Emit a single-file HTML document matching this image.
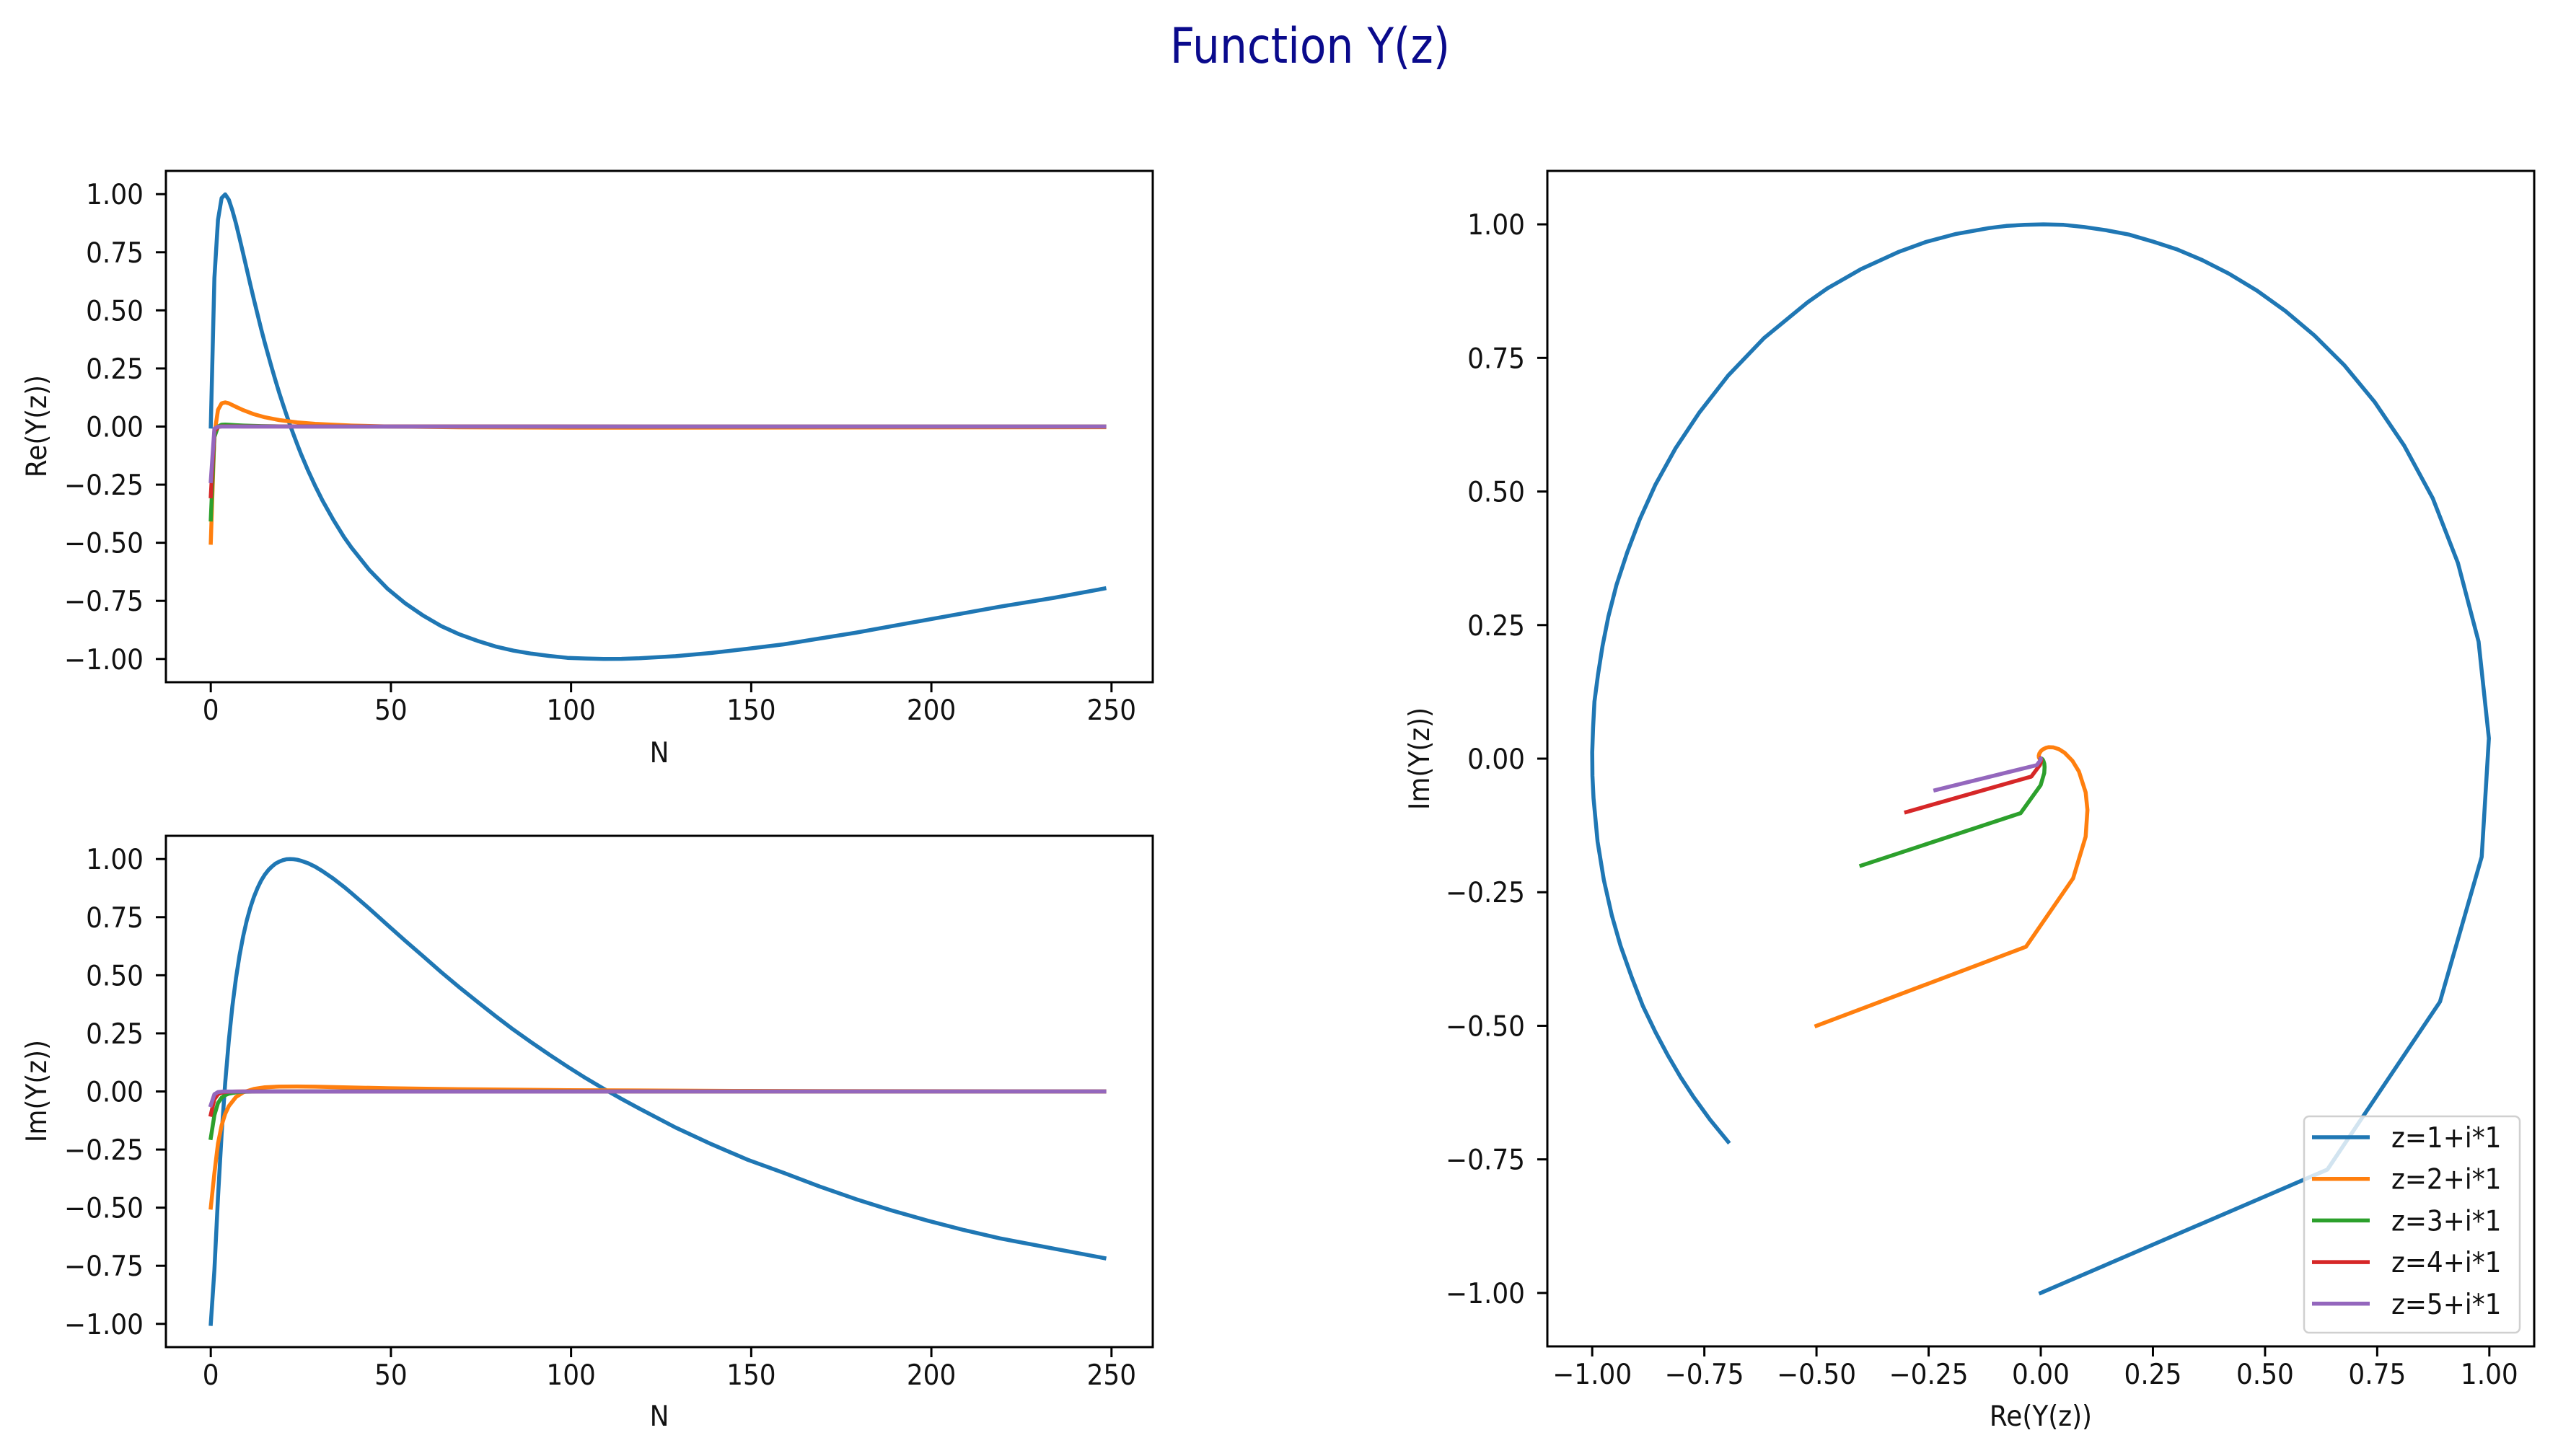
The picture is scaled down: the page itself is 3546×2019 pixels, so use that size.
<!DOCTYPE html>
<html><head><meta charset="utf-8"><title>Function Y(z)</title>
<style>html,body{margin:0;padding:0;background:#fff}svg{display:block}text{font-family:"DejaVu Sans","Liberation Sans",sans-serif;fill:#111}</style>
</head><body>
<svg id="fig" xmlns="http://www.w3.org/2000/svg" width="3546" height="2019" viewBox="0 0 3546 2019">
<rect x="0" y="0" width="3546" height="2019" fill="#fff"/>
</svg>
<script>
// ---- data ----
const seriesNames = ["z=1+i*1","z=2+i*1","z=3+i*1","z=4+i*1","z=5+i*1"];
const seriesColors = ["#1f77b4","#ff7f0e","#2ca02c","#d62728","#9467bd"];
const n1 = [1,2,3,4,5,6,7,8,9,10,11,12,13,14,15,16,17,18,19,20,21,22,23,24,25,26,28,30,32,35,38,40,45,50,55,60,65,70,75,80,85,90,95,100,105,110,115,120,130,140,150,160,170,180,190,200,210,220,235,249];
const re1 = [0,0.639,0.890,0.983,0.999,0.976,0.930,0.874,0.810,0.744,0.677,0.610,0.545,0.482,0.419,0.360,0.304,0.249,0.196,0.145,0.097,0.051,0.006,-0.036,-0.077,-0.116,-0.189,-0.256,-0.318,-0.401,-0.476,-0.520,-0.617,-0.697,-0.761,-0.814,-0.859,-0.894,-0.922,-0.946,-0.964,-0.977,-0.987,-0.995,-0.998,-1.000,-0.9995,-0.997,-0.988,-0.974,-0.956,-0.937,-0.912,-0.887,-0.859,-0.831,-0.803,-0.775,-0.737,-0.697];
const im1 = [-1,-0.769,-0.455,-0.184,0.038,0.219,0.366,0.487,0.586,0.668,0.736,0.792,0.838,0.876,0.908,0.933,0.953,0.968,0.981,0.989,0.995,0.999,1.000,0.999,0.997,0.993,0.982,0.967,0.948,0.916,0.880,0.854,0.787,0.717,0.648,0.581,0.513,0.448,0.386,0.325,0.266,0.211,0.158,0.107,0.058,0.012,-0.032,-0.074,-0.155,-0.227,-0.294,-0.350,-0.409,-0.463,-0.512,-0.556,-0.596,-0.632,-0.676,-0.717];
const n2 = [1,2,3,4,5,6,8,10,13,16,20,25,30,40,50,70,100,150,249];
const re2 = [-0.5,-0.033,0.072,0.100,0.104,0.100,0.085,0.0706,0.053,0.040,0.028,0.018,0.0118,0.0042,0.0002,-0.0032,-0.0045,-0.0042,-0.0028];
const im2 = [-0.5,-0.352,-0.224,-0.146,-0.096,-0.063,-0.024,-0.004,0.011,0.018,0.021,0.0215,0.0204,0.0172,0.0141,0.0096,0.0055,0.0022,0];
const n3 = [1,2,3,4,5,6,8,10,15,20,30,249];
const re3 = [-0.4,-0.045,-0.0004,0.0077,0.0086,0.0079,0.0058,0.0042,0.002,0.001,0.0004,0];
const im3 = [-0.2,-0.102,-0.0497,-0.0269,-0.0157,-0.0096,-0.0039,-0.0016,0.0001,0.0003,0.0003,0];
const n4 = [1,2,3,4,5,6,8,10,249];
const re4 = [-0.3,-0.0209,-0.0018,0.0007,0.0009,0.0008,0.0005,0.0003,0];
const im4 = [-0.1,-0.0335,-0.0116,-0.0049,-0.0024,-0.0013,-0.0004,-0.0001,0];
const n5 = [1,2,3,4,5,249];
const re5 = [-0.235,-0.009,-0.0007,0.0001,0.0001,0];
const im5 = [-0.059,-0.0122,-0.0029,-0.00095,-0.0003,0];
const nTicks = [0,50,100,150,200,250];
const valTicks = [-1,-0.75,-0.5,-0.25,0,0.25,0.5,0.75,1];

const NS = "http://www.w3.org/2000/svg";
const svg = document.getElementById("fig");
function mk(tag, attrs, parent){const e=document.createElementNS(NS,tag);for(const k in attrs)e.setAttribute(k,attrs[k]);(parent||svg).appendChild(e);return e;}
function txt(str,x,y,size,anchor,parent,rot,sx){
  const t=mk("text",{x:0,y:0,"font-size":size,"text-anchor":anchor||"middle",transform:"translate("+x+","+y+")"+(rot?" rotate("+rot+")":"")+" scale("+(sx||0.92)+",1)"},parent);
  t.textContent=str;return t;}
function fmt(v){const s=Math.abs(v).toFixed(2);return (v<0?"\u2212":"")+s;}

function makeAxes(name,L,T,R,B,xlim,ylim){
  const g=mk("g",{});
  
  
  const sx=v=>L+(v-xlim[0])/(xlim[1]-xlim[0])*(R-L);
  const sy=v=>B-(v-ylim[0])/(ylim[1]-ylim[0])*(B-T);
  const cid="clip-"+name;
  const cp=mk("clipPath",{id:cid},g);mk("rect",{x:L,y:T,width:R-L,height:B-T},cp);
  const plot=mk("g",{"clip-path":"url(#"+cid+")"},g);
  return {g,plot,sx,sy,L,T,R,B};
}
function drawTicks(ax,xt,yt,xf,yf){
  const tg=mk("g",{},ax.g);
  
  
  xt.forEach(v=>{const x=ax.sx(v);mk("line",{x1:x,y1:ax.B,x2:x,y2:ax.B+14,stroke:"#000","stroke-width":3},tg);
    const t=txt(xf(v),x,ax.B+52,39,"middle",tg);
    
    });
  yt.forEach(v=>{const y=ax.sy(v);mk("line",{x1:ax.L-14,y1:y,x2:ax.L,y2:y,stroke:"#000","stroke-width":3},tg);
    const t=txt(yf(v),ax.L-31,y+14,39,"end",tg);
    
    });
}
function frame(ax){const r=mk("rect",{x:ax.L,y:ax.T,width:ax.R-ax.L,height:ax.B-ax.T,fill:"none",stroke:"#000","stroke-width":3},ax.g);
  
  }
function line(ax,xs,ys,color,name,xoff){
  xoff=xoff||0;
  let d="";for(let i=0;i<xs.length;i++)d+=(i?"L":"M")+ax.sx(xs[i]+xoff).toFixed(1)+","+ax.sy(ys[i]).toFixed(1);
  const p=mk("path",{d:d,fill:"none",stroke:color,"stroke-width":5.5,"stroke-linejoin":"round","stroke-linecap":"square"},ax.plot);
  
  
}
const Ns=[n1,n2,n3,n4,n5], Res=[re1,re2,re3,re4,re5], Ims=[im1,im2,im3,im4,im5];

// title
const title=txt("Function Y(z)",1816,87,68,"middle",svg,0,0.88);
title.setAttribute("fill","#0a0a8c");title.style.fill="#0a0a8c";



// Re plot (plotted at array index N-1)
const a1=makeAxes("re-vs-n-plot",230,237,1598,946,[-12.45,261.45],[-1.1,1.1]);
for(let k=0;k<5;k++)line(a1,Ns[k],Res[k],seriesColors[k],"re-line-z"+(k+1),-1);
drawTicks(a1,nTicks,valTicks,v=>String(v),fmt);frame(a1);
let t=txt("N",914,1057,39,"middle",a1.g);
t=txt("Re(Y(z))",64,591,39,"middle",a1.g,-90);

// Im plot
const a2=makeAxes("im-vs-n-plot",230,1159,1598,1868,[-12.45,261.45],[-1.1,1.1]);
for(let k=0;k<5;k++)line(a2,Ns[k],Ims[k],seriesColors[k],"im-line-z"+(k+1),-1);
drawTicks(a2,nTicks,valTicks,v=>String(v),fmt);frame(a2);
t=txt("N",914,1977,39,"middle",a2.g);
t=txt("Im(Y(z))",64,1513,39,"middle",a2.g,-90);

// complex plane plot
const a3=makeAxes("complex-plane-plot",2145,237,3513,1867,[-1.1,1.1],[-1.1,1.1]);
for(let k=0;k<5;k++)line(a3,Res[k],Ims[k],seriesColors[k],"trajectory-z"+(k+1));
drawTicks(a3,valTicks,valTicks,fmt,fmt);frame(a3);
t=txt("Re(Y(z))",2829,1977,39,"middle",a3.g);
t=txt("Im(Y(z))",1981,1052,39,"middle",a3.g,-90);

// legend
const lg=mk("g",{});


mk("rect",{x:3194,y:1548,width:299,height:300,rx:7,fill:"#fff","fill-opacity":0.8,stroke:"#d0d0d0","stroke-width":2.5},lg);
seriesNames.forEach((s,i)=>{
  const y=1577+i*57.7;
  const e=mk("g",{},lg);
  
  
  mk("line",{x1:3205,y1:y,x2:3285,y2:y,stroke:seriesColors[i],"stroke-width":5.5},e);
  txt(s,3315,y+14,39,"start",e);
});
</script>
</body></html>
